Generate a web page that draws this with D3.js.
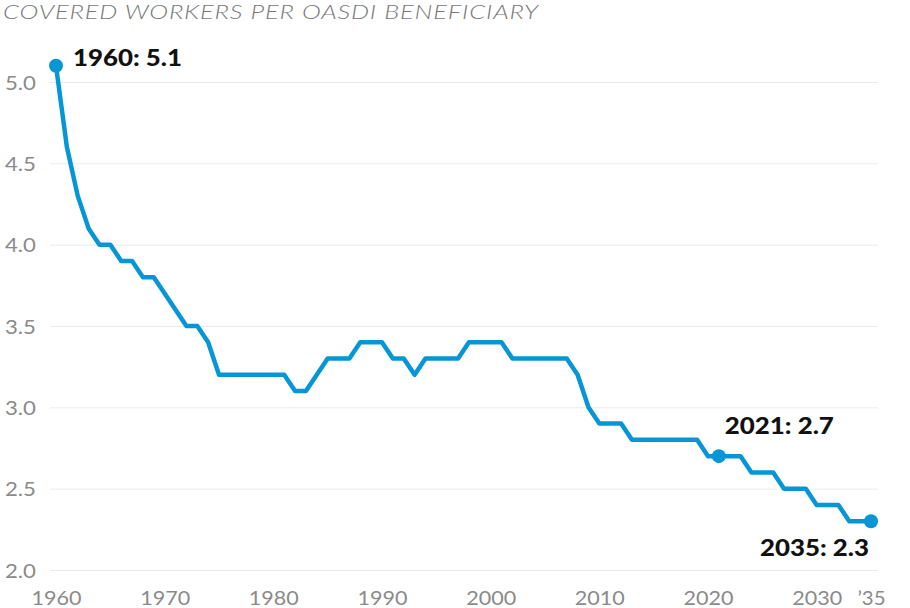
<!DOCTYPE html>
<html>
<head>
<meta charset="utf-8">
<script src="https://cdn.jsdelivr.net/npm/d3@7"></script>
<style>
  body { margin: 0; background: #fff; }
  svg { display: block; font-family: Lato, "Open Sans", sans-serif; }
</style>
</head>
<body>
<script>
// years and covered workers per beneficiary
const years = d3.range(1960, 2036);
const ratios = [
  5.1, 4.6, 4.3, 4.1, 4.0, 4.0, 3.9, 3.9, 3.8, 3.8,
  3.7, 3.6, 3.5, 3.5, 3.4, 3.2, 3.2, 3.2, 3.2, 3.2,
  3.2, 3.2, 3.1, 3.1, 3.2, 3.3, 3.3, 3.3, 3.4, 3.4,
  3.4, 3.3, 3.3, 3.2, 3.3, 3.3, 3.3, 3.3, 3.4, 3.4,
  3.4, 3.4, 3.3, 3.3, 3.3, 3.3, 3.3, 3.3, 3.2, 3.0,
  2.9, 2.9, 2.9, 2.8, 2.8, 2.8, 2.8, 2.8, 2.8, 2.8,
  2.7, 2.7, 2.7, 2.7, 2.6, 2.6, 2.6, 2.5, 2.5, 2.5,
  2.4, 2.4, 2.4, 2.3, 2.3, 2.3
];
const yTicks = [2.0, 2.5, 3.0, 3.5, 4.0, 4.5, 5.0];
const xTicks = [1960, 1970, 1980, 1990, 2000, 2010, 2020, 2030, 2035];
const xTickLabels = ["1960", "1970", "1980", "1990", "2000", "2010", "2020", "2030", "\u201935"];
const highlights = [1960, 2021, 2035];

const data = years.map((y, i) => ({ year: y, value: ratios[i] }));

const width = 910, height = 608;

const svg = d3.select("body").append("svg")
  .attr("width", width)
  .attr("height", height);

const x = d3.scaleLinear().domain([1960, 2035]).range([56, 871]);
const y = d3.scaleLinear().domain([2, 5]).range([570, 82]);

// title (glyphs stretched to match the wide original face)
svg.append("text")
  .attr("x", 3)
  .attr("y", 19)
  .attr("textLength", 536)
  .attr("lengthAdjust", "spacingAndGlyphs")
  .style("font-size", "19px")
  .style("font-style", "italic")
  .style("font-weight", 300)
  .style("letter-spacing", "0.6px")
  .style("fill", "#777")
  .text("COVERED WORKERS PER OASDI BENEFICIARY");

// grid + y labels
const yAxis = d3.axisLeft(y)
  .tickValues(yTicks)
  .tickSize(-(878 - 50))
  .tickPadding(12)
  .tickFormat(d3.format(".1f"));

const gy = svg.append("g")
  .attr("transform", "translate(50,0)")
  .call(yAxis);
gy.select(".domain").remove();
gy.selectAll(".tick line").attr("stroke", "#ebebeb").attr("stroke-width", 1);
gy.selectAll(".tick text")
  .attr("x", -14)
  .attr("dy", "0.36em")
  .attr("textLength", 31)
  .attr("lengthAdjust", "spacingAndGlyphs")
  .style("font-size", "19.5px")
  .style("font-weight", 400)
  .style("font-family", "Lato, sans-serif")
  .style("fill", "#8a8a8a");

// x labels
const xAxis = d3.axisBottom(x)
  .tickValues(xTicks)
  .tickSize(0)
  .tickPadding(0)
  .tickFormat((d, i) => xTickLabels[i]);

const gx = svg.append("g")
  .attr("transform", "translate(0,588)")
  .call(xAxis);
gx.select(".domain").remove();
gx.selectAll(".tick text")
  .attr("dy", "0")
  .attr("y", 17)
  .attr("textLength", (d, i) => i === xTicks.length - 1 ? 28 : 50)
  .attr("lengthAdjust", "spacingAndGlyphs")
  .style("font-size", "20px")
  .style("font-weight", 400)
  .style("font-family", "Lato, sans-serif")
  .style("fill", "#8a8a8a");

// line
const line = d3.line()
  .x(d => x(d.year))
  .y(d => y(d.value));

svg.append("path")
  .datum(data)
  .attr("fill", "none")
  .attr("stroke", "#0796d5")
  .attr("stroke-width", 4.5)
  .attr("stroke-linejoin", "round")
  .attr("d", line);

// dots and labels
const hl = data.filter(d => highlights.includes(d.year));

svg.selectAll(".dot")
  .data(hl)
  .enter()
  .append("circle")
  .attr("cx", d => x(d.year))
  .attr("cy", d => y(d.value))
  .attr("r", 7)
  .attr("fill", "#0796d5");

const labelPos = {
  1960: { dx: 17, dy: -7.5, anchor: "start" },
  2021: { dx: 6, dy: -30, anchor: "start" },
  2035: { dx: -2, dy: 27, anchor: "end" }
};

svg.selectAll(".ann")
  .data(hl)
  .enter()
  .append("text")
  .attr("x", d => x(d.year) + labelPos[d.year].dx)
  .attr("y", d => y(d.value) + labelPos[d.year].dy)
  .attr("dy", "0.36em")
  .attr("text-anchor", d => labelPos[d.year].anchor)
  .attr("textLength", 109)
  .attr("lengthAdjust", "spacingAndGlyphs")
  .style("font-size", "22.5px")
  .style("font-weight", 900)
  .style("fill", "#111")
  .text(d => `${d.year}: ${d3.format(".1f")(d.value)}`);
</script>
</body>
</html>
